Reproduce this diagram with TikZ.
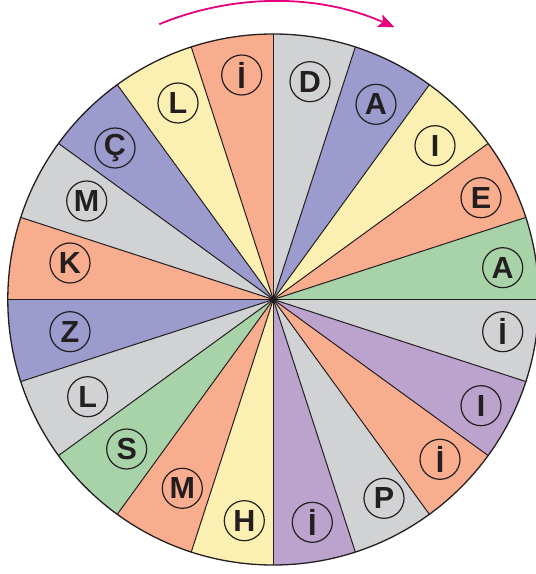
\documentclass[tikz,border=0pt]{standalone}
\usepackage{fontspec}
\setmainfont{Liberation Sans}
\usetikzlibrary{arrows.meta}
\definecolor{cgray}{HTML}{D1D2D4}
\definecolor{cblue}{HTML}{9B9BCE}
\definecolor{cyellow}{HTML}{FBF0B1}
\definecolor{csalmon}{HTML}{F8AD8E}
\definecolor{cgreen}{HTML}{A8D3A9}
\definecolor{clilac}{HTML}{BCA3CE}
\definecolor{cline}{HTML}{231F20}
\definecolor{cmagenta}{HTML}{E5007E}
\begin{document}
\begin{tikzpicture}[x=1pt,y=1pt,
  letter/.style={circle, draw=cline, line width=1.2pt, minimum size=40pt, inner sep=0pt,
    text=cline, font=\fontsize{30.5}{30.5}\selectfont\bfseries},
  spoke/.style={draw=cline, line width=1pt},
  rim/.style={draw=cline, line width=1.3pt},
  turn/.style={draw=cmagenta, line width=1.8pt, -{Stealth[length=16pt,width=13pt,inset=3pt]}}]
\useasboundingbox (0,0) rectangle (536,574);
\clip (0,0) rectangle (536,574);
\coordinate (c) at (273.3,274.5);
\def\R{265.5}
\foreach \a/\col in {72/cgray,54/cblue,36/cyellow,18/csalmon,0/cgreen,
  -18/cgray,-36/clilac,-54/csalmon,-72/cgray,-90/clilac,
  -108/cyellow,-126/csalmon,-144/cgreen,-162/cgray,-180/cblue,
  162/csalmon,144/cgray,126/cblue,108/cyellow,90/csalmon}{
  \fill[\col] (c) -- ++(\a:\R) arc[start angle=\a, end angle=\a+18, radius=\R] -- cycle;
}
\foreach \a in {0,18,...,342}{
  \draw[spoke] (c) -- ++(\a:\R);
}
\draw[rim] (c) circle[radius=\R];
\fill[cline] (c) circle[radius=2.5pt];
\draw[turn] ([shift={(112.5:298)}]c) arc[start angle=112.5, end angle=66, radius=298];
\node[letter] (n1) at (310,492.3) {D};
\node[letter] (n2) at (376,469.7) {A};
\node[letter] (n3) at (435,428.3) {I};
\node[letter] (n4) at (481,376.3) {E};
\node[letter] (n5) at (502.7,306.3) {A};
\node[letter] (n6) at (502.7,242.3) {İ};
\node[letter] (n7) at (481,168.3) {I};
\node[letter] (n8) at (440,114.7) {İ};
\node[letter] (n9) at (384,75.7) {P};
\node[letter] (n10) at (312.3,51.7) {İ};
\node[letter] (n11) at (244.3,53.3) {H};
\node[letter] (n12) at (182.3,85.7) {M};
\node[letter] (n13) at (126.7,125) {S};
\node[letter] (n14) at (87.7,177.3) {L};
\node[letter] (n15) at (70,242.3) {Z};
\node[letter] (n16) at (70,311) {K};
\node[letter] (n17) at (86.7,373) {M};
\node[letter] (n18) at (115,426) {Ç};
\node[letter] (n19) at (178,471) {L};
\node[letter] (n20) at (241.7,499) {İ};
\end{tikzpicture}
\end{document}
